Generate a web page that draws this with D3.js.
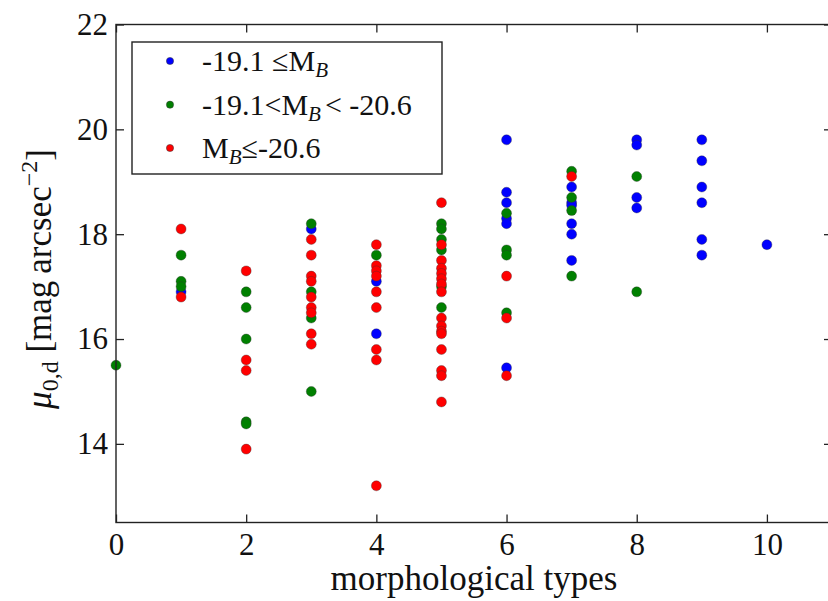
<!DOCTYPE html>
<head>
    <meta charset="utf-8">
    <script src="https://d3js.org/d3.v7.min.js"></script>
    <style>
      body { margin: 0; background: #fff; }
      text {
        font-family: "Liberation Serif", "DejaVu Serif", serif;
        fill: #111;
      }
      .tick line { stroke: #222; stroke-width: 1.3; }
      .tick text { font-size: 31px; }
      .axislabel { font-size: 35px; }
      .legendtext { font-size: 30px; }
    </style>
</head>
<body>
    <script>
        // morphological type / central surface brightness, one list per magnitude bin
        var faint = [
          [1,16.9],[3,18.1],[4,17.1],[4,16.1],
          [6,19.8],[6,18.8],[6,18.6],[6,18.3],[6,18.2],[6,15.45],
          [7,18.9],[7,18.6],[7,18.55],[7,18.2],[7,18.0],[7,17.5],
          [8,19.8],[8,19.7],[8,18.7],[8,18.5],
          [9,19.8],[9,19.4],[9,18.9],[9,18.6],[9,17.9],[9,17.6],
          [10,17.8]
        ];
        var middle = [
          [0,15.5],[1,17.6],[1,17.1],[1,17.0],
          [2,16.9],[2,16.6],[2,16.0],[2,14.42],[2,14.38],
          [3,18.2],[3,16.9],[3,16.4],[3,15.0],
          [4,17.6],
          [5,18.2],[5,18.1],[5,17.9],[5,17.7],[5,17.0],[5,16.6],
          [6,18.4],[6,17.7],[6,17.6],[6,16.5],
          [7,19.2],[7,18.7],[7,18.45],[7,17.2],
          [8,19.1],[8,16.9]
        ];
        var bright = [
          [1,18.1],[1,16.8],
          [2,17.3],[2,15.6],[2,15.4],[2,13.9],
          [3,17.9],[3,17.6],[3,17.2],[3,17.1],[3,16.8],[3,16.6],[3,16.5],[3,16.1],[3,15.9],
          [4,17.8],[4,17.4],[4,17.3],[4,17.2],[4,16.9],[4,16.6],[4,15.8],[4,15.6],[4,13.2],
          [5,18.6],[5,17.8],[5,17.5],[5,17.35],[5,17.25],[5,17.15],[5,17.05],[5,16.9],
          [5,16.4],[5,16.25],[5,16.15],[5,16.1],[5,15.8],[5,15.4],[5,15.3],[5,14.8],
          [6,17.2],[6,16.4],[6,15.3],
          [7,19.1]
        ];
        var xTicks = [0, 2, 4, 6, 8, 10];
        var yTicks = [14, 16, 18, 20, 22];

        var series = [
          {name: "faint", data: faint, color: "#0000ff"},
          {name: "middle", data: middle, color: "#008000"},
          {name: "bright", data: bright, color: "#ff0000"}
        ];

        var svg = d3.select("body").append("svg")
          .attr("width", 828)
          .attr("height", 601);

        var x = d3.scaleLinear().domain([0, 11]).range([116, 832]);
        var y = d3.scaleLinear().domain([12.5, 22]).range([522.5, 24.5]);

        // points
        series.forEach(function(s) {
          svg.append("g").selectAll("circle").data(s.data).enter()
            .append("circle")
            .attr("cx", function(d) {return x(d[0]);})
            .attr("cy", function(d) {return y(d[1]);})
            .attr("r", 5)
            .attr("fill", s.color)
            .attr("stroke", "#333")
            .attr("stroke-opacity", 0.6)
            .attr("stroke-width", 0.6);
        });

        // axes, ticks pointing inward like matplotlib
        var xAxis = svg.append("g")
          .attr("transform", "translate(0," + y(12.5) + ")")
          .call(d3.axisBottom(x).tickValues(xTicks).tickSizeInner(-8).tickSizeOuter(0).tickPadding(10));
        xAxis.select(".domain").remove();
        var xTop = svg.append("g")
          .attr("transform", "translate(0," + y(22) + ")")
          .call(d3.axisTop(x).tickValues(xTicks).tickSizeInner(-8).tickSizeOuter(0).tickFormat(""));
        xTop.select(".domain").remove();
        var yAxis = svg.append("g")
          .attr("transform", "translate(" + x(0) + ",0)")
          .call(d3.axisLeft(y).tickValues(yTicks).tickSizeInner(-8).tickSizeOuter(0).tickPadding(8));
        yAxis.select(".domain").remove();
        var yRight = svg.append("g")
          .attr("transform", "translate(" + x(11) + ",0)")
          .call(d3.axisRight(y).tickValues(yTicks).tickSizeInner(-8).tickSizeOuter(0).tickFormat(""));
        yRight.select(".domain").remove();
        svg.selectAll(".tick text").attr("fill", "#111").style("font-family", "Liberation Serif");

        // frame
        svg.append("rect")
          .attr("x", x(0)).attr("y", y(22))
          .attr("width", x(11) - x(0)).attr("height", y(12.5) - y(22))
          .attr("fill", "none").attr("stroke", "#222").attr("stroke-width", 1.4);

        // axis labels
        svg.append("text")
          .attr("class", "axislabel")
          .attr("x", 474).attr("y", 590)
          .attr("text-anchor", "middle")
          .text("morphological types");

        var yl = svg.append("text")
          .attr("class", "axislabel")
          .attr("text-anchor", "middle")
          .attr("transform", "translate(51,279) rotate(-90)");
        yl.append("tspan").style("font-style", "italic").text("\u03bc");
        yl.append("tspan").attr("dy", 7).style("font-size", "24px").text("0,d");
        yl.append("tspan").attr("dy", -7).text(" [mag\u2009arcsec");
        yl.append("tspan").attr("dy", -14).style("font-size", "24px").text("\u22122");
        yl.append("tspan").attr("dy", 14).text("]");

        // legend
        var legend = svg.append("g");
        legend.append("rect")
          .attr("x", 132).attr("y", 42)
          .attr("width", 310).attr("height", 132)
          .attr("fill", "#fff").attr("stroke", "#222").attr("stroke-width", 1.4);
        var rows = [61, 104.7, 148];
        series.forEach(function(s, i) {
          legend.append("circle")
            .attr("cx", 170).attr("cy", rows[i]).attr("r", 3.6)
            .attr("fill", s.color).attr("stroke", "#333").attr("stroke-width", 0.5);
        });
        function sub(t) {
          t.append("tspan").attr("dy", 6).style("font-style", "italic").style("font-size", "21px").text("B");
        }
        var t1 = legend.append("text").attr("class", "legendtext").attr("x", 202).attr("y", rows[0] + 10);
        t1.append("tspan").text("-19.1 \u2264M");
        sub(t1);
        var t2 = legend.append("text").attr("class", "legendtext").attr("x", 202).attr("y", rows[1] + 10);
        t2.append("tspan").text("-19.1<M");
        sub(t2);
        t2.append("tspan").attr("dy", -6).attr("dx", 4).text("< -20.6");
        var t3 = legend.append("text").attr("class", "legendtext").attr("x", 202).attr("y", rows[2] + 10);
        t3.append("tspan").text("M");
        sub(t3);
        t3.append("tspan").attr("dy", -6).text("\u2264-20.6");
    </script>
</body>
